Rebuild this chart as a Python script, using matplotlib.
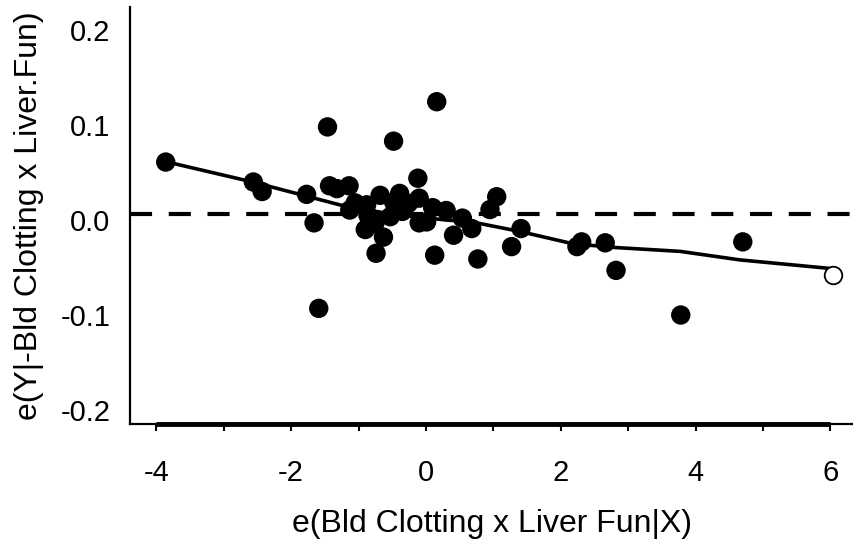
import matplotlib
matplotlib.use("Agg")
import matplotlib.pyplot as plt

# residuals from the added-variable plot
res_x = [-3.86, -2.56, -2.43, -1.77, -1.66, -1.59, -1.46, -1.43, -1.32, -1.14,
         -1.05, -1.13, -0.88, -0.86, -0.90, -0.76, -0.63, -0.74, -0.68, -0.53,
         -0.48, -0.48, -0.39, -0.35, -0.26, -0.12, -0.10, -0.10, 0.01, 0.10,
         0.16, 0.30, 0.13, 0.41, 0.54, 0.68, 0.77, 1.05, 0.95, 1.27,
         1.41, 2.24, 2.31, 2.66, 2.82, 3.78, 4.70]
res_y = [0.061, 0.040, 0.030, 0.027, -0.003, -0.093, 0.098, 0.036, 0.033, 0.036,
         0.018, 0.0105, 0.016, 0.005, -0.010, -0.004, -0.018, -0.035, 0.026, 0.0035,
         0.083, 0.019, 0.028, 0.009, 0.0175, 0.044, 0.023, -0.003, -0.002, 0.013,
         0.1245, 0.010, -0.037, -0.016, 0.002, -0.009, -0.041, 0.0245, 0.011, -0.028,
         -0.009, -0.028, -0.023, -0.024, -0.053, -0.100, -0.023]

# case left out of the smooth
open_x = [6.04]
open_y = [-0.058]

# smoothed trend
fit_x = [-3.86, -2.57, -1.27, -0.5, 0.3, 0.68, 1.39, 2.18, 2.82, 3.77, 4.66, 6.0]
fit_y = [0.0614, 0.040, 0.0158, 0.006, 0.000, -0.002, -0.012, -0.025, -0.029, -0.033, -0.042, -0.051]

ref_level = 0.0063

x_ticks = [-4, -2, 0, 2, 4, 6]
y_ticks = [-0.2, -0.1, 0.0, 0.1, 0.2]
y_labels = ["-0.2", "-0.1", "0.0", "0.1", "0.2"]

plt.rcParams["font.family"] = ["Liberation Sans", "DejaVu Sans"]
plt.rcParams["axes.unicode_minus"] = False

W, H = 854, 545
fig = plt.figure(figsize=(W / 100, H / 100), dpi=100, facecolor="white")
ax = fig.add_axes([130 / W, 1 - 424 / H, 1 - 130 / W, (424 - 7) / H])

ax.set_xlim(-4.39, 6.35)
ax.set_ylim(-0.2147, 0.2242)

ax.axhline(ref_level, color="black", lw=3, dashes=(5.3, 4.0), zorder=1)
ax.plot(fit_x, fit_y, color="black", lw=2.6, zorder=2)
ax.scatter(res_x, res_y, s=195, color="black", edgecolors="none", zorder=3)
ax.scatter(open_x, open_y, s=160, facecolors="white", edgecolors="black",
           linewidths=1.3, zorder=3)

for side in ["top", "right"]:
    ax.spines[side].set_visible(False)
ax.spines["left"].set_linewidth(1.6)
ax.spines["bottom"].set_linewidth(1.6)

# heavy baseline under the tick range
ax.plot([-4, 6], [ax.get_ylim()[0]] * 2, color="black", lw=3.5,
        solid_capstyle="butt", clip_on=False, zorder=4)

ax.set_xticks(x_ticks)
ax.set_xticks(range(-4, 7), minor=True)
ax.set_xticklabels([str(t) for t in x_ticks])
ax.tick_params(axis="x", which="both", direction="out", length=5, width=1.5,
               labelsize=21, pad=20)
ax.set_yticks(y_ticks)
ax.set_yticklabels(y_labels)
ax.tick_params(axis="y", length=0, labelsize=21, pad=14)

ax.set_xlabel("e(Bld Clotting x Liver Fun|X)", fontsize=23, labelpad=16)
ax.set_ylabel("e(Y|-Bld Clotting x Liver.Fun)", fontsize=23, labelpad=12)

fig.savefig("out.png", dpi=100)
